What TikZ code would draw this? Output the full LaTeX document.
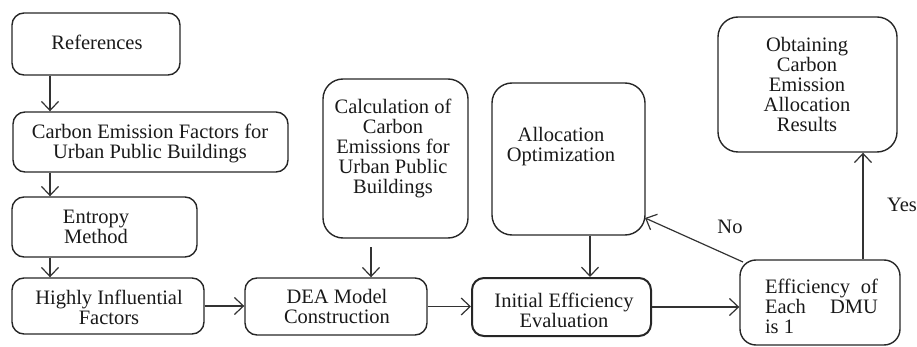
\documentclass[tikz,border=0pt]{standalone}
\usepackage{fontspec}
\setmainfont{Liberation Serif}
\usetikzlibrary{arrows.meta}
\begin{document}
\begin{tikzpicture}[x=1pt,y=-1pt,
  box/.style={draw=black!85,line width=1.4pt,rounded corners=12pt,inner sep=0pt},
  bigbox/.style={box,rounded corners=20pt},
  txt/.style={align=center,inner sep=0pt,font=\fontsize{20.5}{20}\selectfont,text=black!90},
  arr/.style={draw=black!80,line width=1.2pt,-{Straight Barb[length=9pt,width=17pt,line width=1.2pt]}},
  lbl/.style={inner sep=0pt,font=\fontsize{20.5}{20}\selectfont,text=black!90}]
\useasboundingbox (0,0) rectangle (917,347);
% boxes
\node[box,minimum width=168pt,minimum height=62pt] (ref) at (96,44) {};
\node[box,minimum width=275pt,minimum height=60pt] (cef) at (150.5,142) {};
\node[box,minimum width=185pt,minimum height=60pt] (ent) at (104.5,227) {};
\node[box,minimum width=192pt,minimum height=56pt] (hif) at (108,306) {};
\node[box,minimum width=182pt,minimum height=57pt] (dea) at (336,306.5) {};
\node[bigbox,minimum width=145pt,minimum height=159pt] (calc) at (395.5,158.5) {};
\node[box,line width=2pt,minimum width=179pt,minimum height=58pt] (ini) at (561.5,307) {};
\node[bigbox,minimum width=153pt,minimum height=152pt] (alloc) at (568.5,159) {};
\node[bigbox,minimum width=179pt,minimum height=135pt] (obt) at (807.5,84.5) {};
\node[box,rounded corners=16pt,minimum width=160pt,minimum height=85pt] (eff) at (820,302.5) {};
% texts
\node[txt] (tref) at (97,42) {References};
\node[txt] (tcef) at (150,143) {Carbon Emission Factors for\\Urban Public Buildings};
\node[txt] (tent) at (96,227) {Entropy\\Method};
\node[txt] (thif) at (109,307) {Highly Influential\\Factors};
\node[txt] (tdea) at (337,306) {DEA Model\\Construction};
\node[txt] (tcalc) at (393,148) {Calculation of\\Carbon\\Emissions for\\Urban Public\\Buildings};
\node[txt] (talloc) at (561,147) {Allocation\\Optimization};
\node[txt] (tini) at (564,310) {Initial Efficiency\\Evaluation};
\node[txt] (tobt) at (807,84) {Obtaining\\Carbon\\Emission\\Allocation\\Results};
\node[txt,align=left] (teff) at (821.5,306) {\hbox to 113pt{Efficiency\hfill of}\\\hbox to 113pt{Each\hfill DMU}\\is 1};
% helper coordinates
\coordinate (xl) at (50,0);
\coordinate (xc) at (371,0);
\coordinate (xa) at (590,0);
\coordinate (xy) at (863,0);
\coordinate (calcgap) at (371,247);
\coordinate (noend) at (645,218);
\coordinate (nostart) at (743,262);
% connectors
\draw[arr] (ref.south -| xl) -- (cef.north -| xl);
\draw[arr] (cef.south -| xl) -- (ent.north -| xl);
\draw[arr] (ent.south -| xl) -- (hif.north -| xl);
\draw[arr] (hif.east) -- (dea.west |- hif.east);
\draw[arr] (calcgap) -- (dea.north -| xc);
\draw[arr] (dea.east) -- (ini.west |- dea.east);
\draw[arr] (alloc.south -| xa) -- (ini.north -| xa);
\draw[arr] (ini.east) -- (eff.west |- ini.east);
\draw[arr] (eff.north -| xy) -- (obt.south -| xy);
\draw[arr] (nostart) -- (noend);
% labels
\node[lbl] (lno) at (730,227) {No};
\node[lbl] (lyes) at (902,205) {Yes};
\end{tikzpicture}
\end{document}
